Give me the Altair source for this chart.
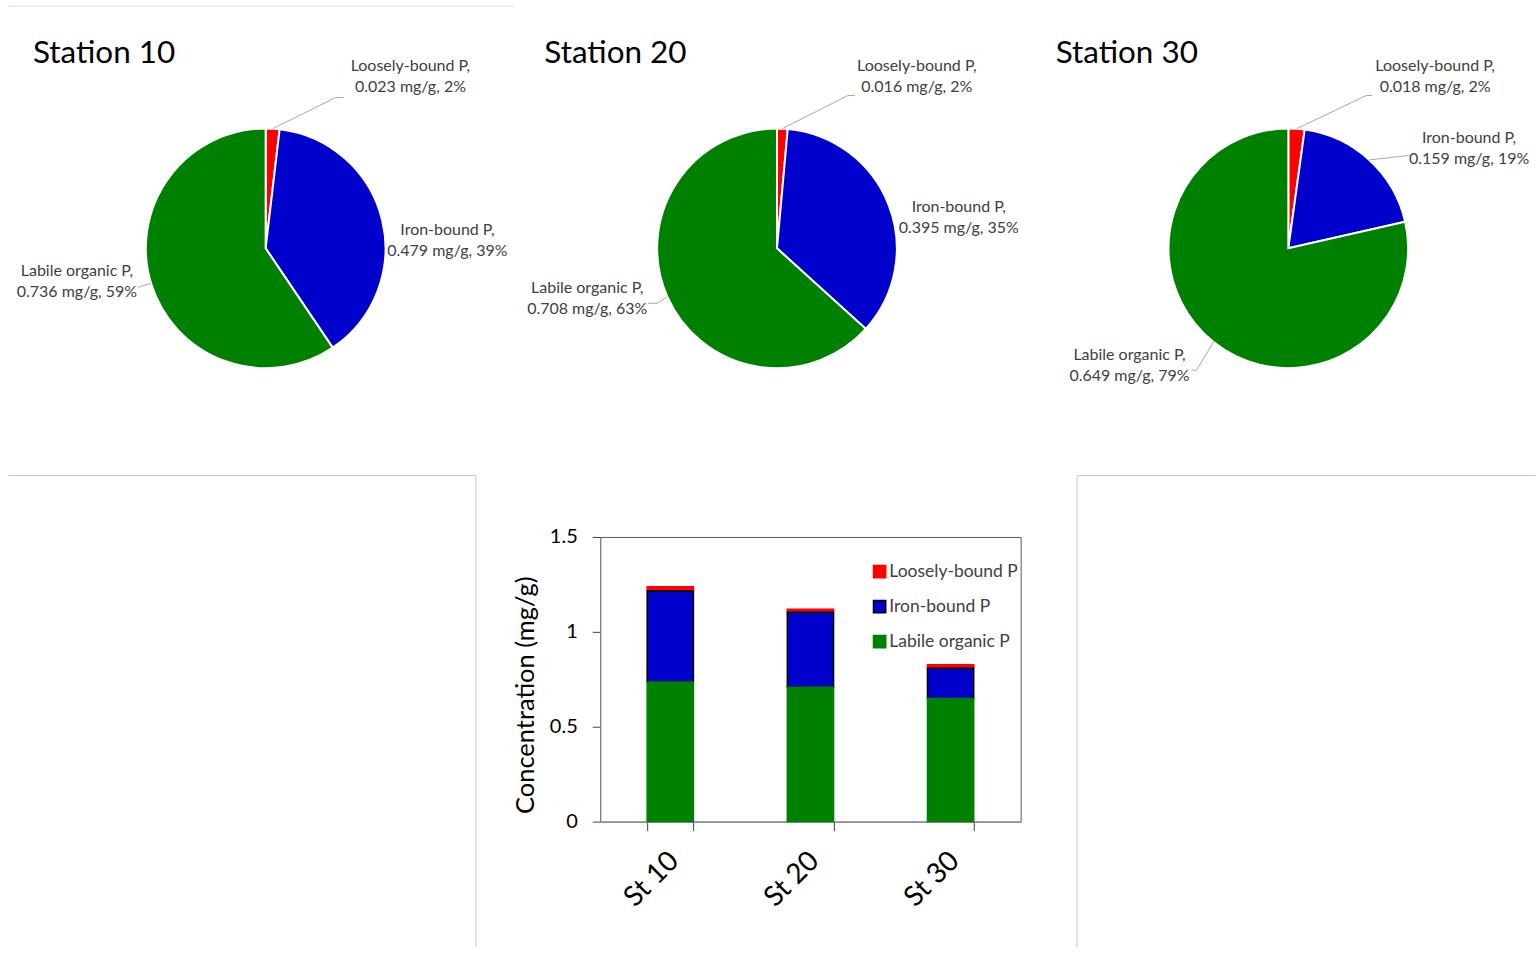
import altair as alt
import pandas as pd

# Phosphorus fractions in surface sediment, mg/g
stations = ["Station 10", "Station 20", "Station 30"]
site_labels = ["St 10", "St 20", "St 30"]
fractions = ["Loosely-bound P", "Iron-bound P", "Labile organic P"]
loosely_bound = [0.023, 0.016, 0.018]
iron_bound = [0.479, 0.395, 0.159]
labile_organic = [0.736, 0.708, 0.649]
# shares printed on the pie labels, %
share_loosely = [2, 2, 2]
share_iron = [39, 35, 19]
share_labile = [59, 63, 79]

fill_colors = ["#ff0000", "#0000cc", "#008000"]
outline_colors = ["#ff0000", "#000000", "#008000"]

# Label placement around each pie, px from the pie centre (one entry per fraction)
label_offsets = {
    "Station 10": [(145, -172), (182, -8), (-189, 33)],
    "Station 20": [(140, -172), (182, -31), (-190, 50)],
    "Station 30": [(147, -172), (181, -100), (-159, 117)],
}
# Leader lines: (elbow, end); None where the label sits right next to its slice
leader_bends = {
    "Station 10": [((70, -151), (78, -151)), None, ((-128, 39), (-128, 39))],
    "Station 20": [((71, -153), (78, -153)), None, ((-120, 55), (-129, 55))],
    "Station 30": [((78, -153), (84, -153)), ((121, -93), (121, -93)), ((-92, 122), (-97, 122))],
}

PIE_W, PIE_H, R = 496, 390, 120
CX, CY = PIE_W / 2, PIE_H / 2
FONT = "Lato"
FRAME = "#c8c8c8"

rows = []
for i, st in enumerate(stations):
    vals = [loosely_bound[i], iron_bound[i], labile_organic[i]]
    shares = [share_loosely[i], share_iron[i], share_labile[i]]
    for j, fr in enumerate(fractions):
        lx, ly = label_offsets[st][j]
        bend = leader_bends[st][j]
        rows.append(dict(
            station=st, site=site_labels[i], fraction=fr, value=vals[j], share=shares[j],
            pie_rank=j, stack_rank=2 - j, lx=lx, ly=ly,
            kx=bend[0][0] if bend else None, ky=bend[0][1] if bend else None,
            ex=bend[1][0] if bend else None, ey=bend[1][1] if bend else None,
        ))
df = pd.DataFrame(rows)

fill_scale = alt.Scale(domain=fractions, range=fill_colors)


def pie(st):
    base = alt.Chart(df).transform_filter(alt.datum.station == st)
    arcs = base.mark_arc(outerRadius=R, stroke="white", strokeWidth=2).encode(
        theta=alt.Theta("value:Q", stack=True),
        order=alt.Order("pie_rank:Q"),
        color=alt.Color("fraction:N", scale=fill_scale, legend=None),
    )
    geo = base.transform_joinaggregate(total="sum(value)").transform_window(
        cum="sum(value)", sort=[alt.SortField("pie_rank")]
    ).transform_calculate(
        mid="2 * PI * (datum.cum - datum.value / 2) / datum.total",
        sx=f"{CX} + {R} * sin(datum.mid)",
        sy=f"{CY} - {R} * cos(datum.mid)",
        kxp=f"{CX} + datum.kx", kyp=f"{CY} + datum.ky",
        exp=f"{CX} + datum.ex", eyp=f"{CY} + datum.ey",
        tx=f"{CX} + datum.lx", ty=f"{CY} + datum.ly",
        label="datum.fraction + ',\\n' + format(datum.value, '.3f') + ' mg/g, ' + datum.share + '%'",
    )
    leaders = geo.transform_filter("isValid(datum.kx)")
    seg1 = leaders.mark_rule(color="#a6a6a6", strokeWidth=1).encode(
        x=alt.X("sx:Q", scale=None, axis=None), y=alt.Y("sy:Q", scale=None, axis=None),
        x2="kxp:Q", y2="kyp:Q",
    )
    seg2 = leaders.mark_rule(color="#a6a6a6", strokeWidth=1).encode(
        x=alt.X("kxp:Q", scale=None, axis=None), y=alt.Y("kyp:Q", scale=None, axis=None),
        x2="exp:Q", y2="eyp:Q",
    )
    # two-line labels, block centred on the anchor
    labels = geo.mark_text(
        font=FONT, fontSize=16, color="#404040", align="center", baseline="middle",
        lineBreak="\n", lineHeight=21, dy=-10.5,
    ).encode(
        x=alt.X("tx:Q", scale=None, axis=None), y=alt.Y("ty:Q", scale=None, axis=None),
        text="label:N",
    )
    # station name in the top-left corner of the panel
    heading = base.transform_filter(alt.datum.pie_rank == 0).mark_text(
        font=FONT, fontSize=31.5, color="black", align="left", baseline="alphabetic",
    ).encode(x=alt.value(15), y=alt.value(9), text="station:N")
    return alt.layer(arcs, seg1, seg2, labels, heading).properties(width=PIE_W, height=PIE_H)


frame_df = pd.DataFrame({"v": [0.5]})
edge = dict(domainColor=FRAME, domainWidth=1, ticks=False, labels=False, grid=False, title=None)


def frame_panel(width, height, side, x_start):
    # empty neighbour panel: only its top and inner edges are drawn
    return alt.Chart(frame_df).mark_point(opacity=0, size=0).encode(
        x=alt.X("v:Q", scale=alt.Scale(domain=[0, 1], range=[x_start, width]),
                axis=alt.Axis(orient="top", offset=62, **edge)),
        y=alt.Y("v:Q", scale=alt.Scale(domain=[0, 1], range=[height, -62]),
                axis=alt.Axis(orient=side, **edge)),
    ).properties(width=width, height=height)


# lower edge of the panel above the pies
top_edge = alt.Chart(frame_df).mark_point(opacity=0, size=0).encode(
    x=alt.X("v:Q", scale=alt.Scale(domain=[0, 1], range=[-10, 496]),
            axis=alt.Axis(orient="bottom", domainColor="#dcdcdc", domainWidth=1, ticks=False,
                          labels=False, grid=False, title=None)),
).properties(width=496, height=1)

legend = alt.Legend(
    title=None, orient="none", legendX=271, legendY=26, symbolType="square", symbolSize=150,
    labelFont=FONT, labelFontSize=17.5, labelColor="#404040", rowPadding=16, labelOffset=1,
    padding=0, symbolStrokeWidth=1.5,
)

bar = alt.Chart(df).mark_bar(strokeWidth=1.5).encode(
    x=alt.X(
        "site:N", sort=site_labels,
        scale=alt.Scale(paddingInner=0.67, paddingOuter=0.335),
        axis=alt.Axis(
            title=None, labelAngle=-45, labelAlign="right", labelBaseline="top", labelPadding=16,
            labelOffset=-6, tickBand="extent", tickSize=9, tickColor="#404040",
            domainColor="#868686", labelFont=FONT, labelFontSize=28, labelColor="black",
        ),
    ),
    y=alt.Y(
        "value:Q", stack="zero", scale=alt.Scale(domain=[0, 1.5]),
        axis=alt.Axis(
            values=[0, 0.5, 1, 1.5], format="~g", grid=False, tickSize=8, tickColor="#404040",
            domainColor="#868686", labelPadding=15, labelFont=FONT, labelFontSize=20,
            labelColor="black", title="Concentration (mg/g)", titleFont=FONT, titleFontSize=25.5,
            titleFontWeight="normal", titleColor="black", titleAngle=-90, titleX=-75, titleY=158,
            titleAlign="center", titleBaseline="middle",
        ),
    ),
    fill=alt.Fill("fraction:N", scale=fill_scale, legend=legend),
    stroke=alt.Stroke("fraction:N", scale=alt.Scale(domain=fractions, range=outline_colors), legend=legend),
    order=alt.Order("stack_rank:Q"),
).properties(width=421, height=285, view=alt.ViewBackground(stroke="#595959", strokeWidth=1))

own_legends = dict(fill="independent", stroke="independent", color="independent")

pies = alt.hconcat(*[pie(s) for s in stations], spacing=16, bounds="flush").resolve_legend(**own_legends)
bottom = alt.hconcat(
    frame_panel(458, 410, "right", -10),
    alt.hconcat(bar, frame_panel(459, 410, "left", 0), spacing=56, bounds="flush").resolve_legend(**own_legends),
    spacing=125, bounds="flush",
).resolve_legend(**own_legends)

chart = alt.vconcat(top_edge, pies, bottom, spacing=30).resolve_legend(**own_legends).properties(
    padding={"left": 16, "top": 3, "right": 0, "bottom": 0},
).configure(font=FONT, view=alt.ViewConfig(stroke="transparent"))

chart.save("out.html", embed_options={"renderer": "svg", "actions": False})
